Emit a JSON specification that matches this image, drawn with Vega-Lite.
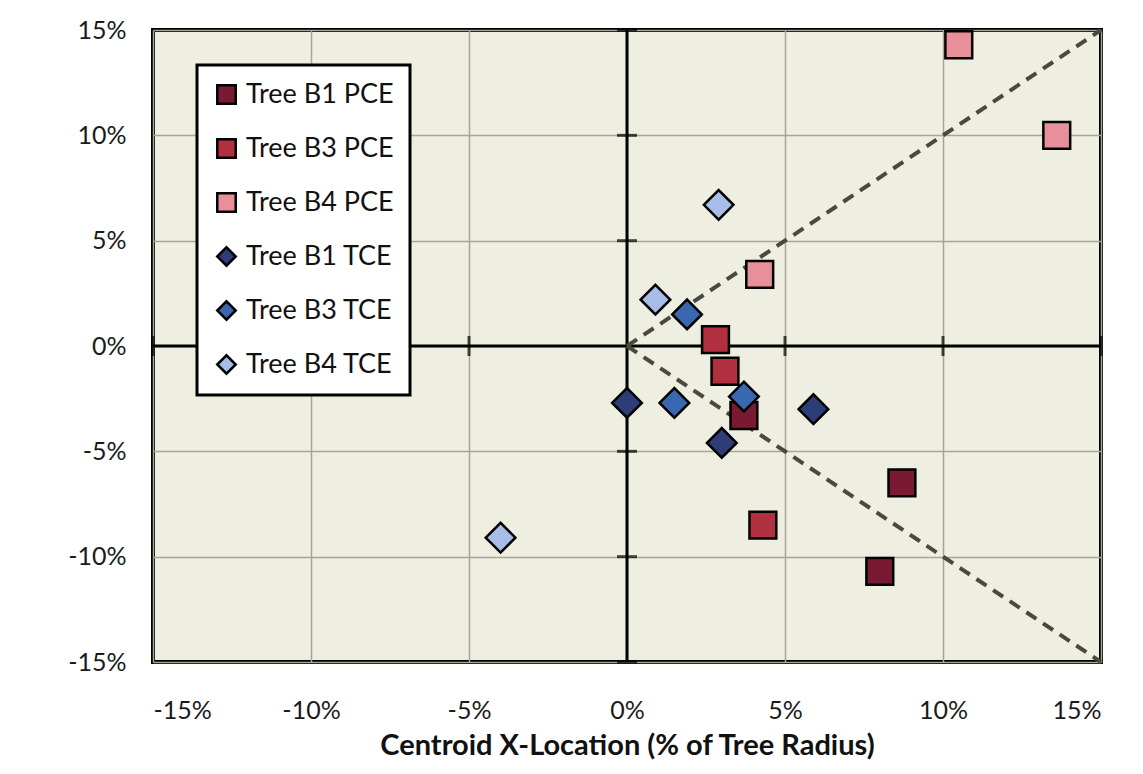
{
  "$schema": "https://vega.github.io/schema/vega-lite/v6.json",
  "width": 948,
  "height": 632,
  "autosize": {"type": "none"},
  "padding": {"left": 153, "top": 30, "right": 42, "bottom": 112},
  "background": "white",
  "config": {
    "view": {"fill": "#eeefe1", "stroke": "#000000", "strokeWidth": 4},
    "font": "Lato",
    "legend": {"strokeWidth": 3}
  },
  "datasets": {
    "points": [
      {"series": "Tree B1 PCE", "x": 8.7, "y": -6.5},
      {"series": "Tree B1 PCE", "x": 8.0, "y": -10.7},
      {"series": "Tree B1 PCE", "x": 3.7, "y": -3.3},
      {"series": "Tree B3 PCE", "x": 2.8, "y": 0.3},
      {"series": "Tree B3 PCE", "x": 3.1, "y": -1.2},
      {"series": "Tree B3 PCE", "x": 4.3, "y": -8.5},
      {"series": "Tree B4 PCE", "x": 10.5, "y": 14.3},
      {"series": "Tree B4 PCE", "x": 13.6, "y": 10.0},
      {"series": "Tree B4 PCE", "x": 4.2, "y": 3.4},
      {"series": "Tree B1 TCE", "x": 0.0, "y": -2.7},
      {"series": "Tree B1 TCE", "x": 5.9, "y": -3.0},
      {"series": "Tree B1 TCE", "x": 3.0, "y": -4.6},
      {"series": "Tree B3 TCE", "x": 1.9, "y": 1.5},
      {"series": "Tree B3 TCE", "x": 1.5, "y": -2.7},
      {"series": "Tree B3 TCE", "x": 3.7, "y": -2.4},
      {"series": "Tree B4 TCE", "x": 2.9, "y": 6.7},
      {"series": "Tree B4 TCE", "x": 0.9, "y": 2.2},
      {"series": "Tree B4 TCE", "x": -4.0, "y": -9.1}
    ],
    "diag": [
      {"seg": "up", "x": 0, "y": 0},
      {"seg": "up", "x": 15, "y": 15},
      {"seg": "down", "x": 0, "y": 0},
      {"seg": "down", "x": 15, "y": -15}
    ],
    "zero": [{"v": 0}],
    "ticksY": [{"x": 0, "y": -15}, {"x": 0, "y": -10}, {"x": 0, "y": -5}, {"x": 0, "y": 5}, {"x": 0, "y": 10}, {"x": 0, "y": 15}],
    "ticksX": [{"x": -15, "y": 0}, {"x": -10, "y": 0}, {"x": -5, "y": 0}, {"x": 5, "y": 0}, {"x": 10, "y": 0}, {"x": 15, "y": 0}]
  },
  "layer": [
    {
      "data": {"name": "zero"},
      "mark": {"type": "rule", "color": "#000000", "strokeWidth": 3},
      "encoding": {
        "x": {
          "field": "v", "type": "quantitative",
          "scale": {"domain": [-15, 15], "nice": false, "zero": false},
          "axis": {
            "values": [-15, -10, -5, 0, 5, 10, 15],
            "labelExpr": "datum.value + '%'",
            "labelFontSize": 25, "labelColor": "#1a1a1a", "labelPadding": 36,
            "domain": false, "ticks": false,
            "grid": true, "gridColor": "#a6a696", "gridWidth": 1.5,
            "title": "Centroid X-Location (% of Tree Radius)",
            "titleFontSize": 29, "titleFontWeight": "bold", "titleColor": "#111111", "titlePadding": 8
          }
        }
      }
    },
    {
      "data": {"name": "zero"},
      "mark": {"type": "rule", "color": "#000000", "strokeWidth": 3},
      "encoding": {
        "y": {
          "field": "v", "type": "quantitative",
          "scale": {"domain": [-15, 15], "nice": false, "zero": false},
          "axis": {
            "values": [-15, -10, -5, 0, 5, 10, 15],
            "labelExpr": "datum.value + '%'",
            "labelFontSize": 25, "labelColor": "#1a1a1a", "labelPadding": 27,
            "domain": false, "ticks": false,
            "grid": true, "gridColor": "#a6a696", "gridWidth": 1.5,
            "title": null
          }
        }
      }
    },
    {
      "data": {"name": "ticksY"},
      "mark": {"type": "tick", "orient": "horizontal", "color": "#000000", "size": 20, "thickness": 3},
      "encoding": {
        "x": {"field": "x", "type": "quantitative"},
        "y": {"field": "y", "type": "quantitative"}
      }
    },
    {
      "data": {"name": "ticksX"},
      "mark": {"type": "tick", "orient": "vertical", "color": "#000000", "size": 20, "thickness": 3},
      "encoding": {
        "x": {"field": "x", "type": "quantitative"},
        "y": {"field": "y", "type": "quantitative"}
      }
    },
    {
      "data": {"name": "diag"},
      "mark": {"type": "line", "color": "#4a4a3c", "strokeWidth": 4, "strokeDash": [12, 8]},
      "encoding": {
        "x": {"field": "x", "type": "quantitative"},
        "y": {"field": "y", "type": "quantitative"},
        "detail": {"field": "seg", "type": "nominal"}
      }
    },
    {
      "data": {"name": "points"},
      "transform": [{"filter": "indexof(datum.series, 'PCE') >= 0"}],
      "mark": {"type": "point", "filled": true, "opacity": 1, "stroke": "#000000", "strokeWidth": 2.5, "size": 720},
      "encoding": {
        "x": {"field": "x", "type": "quantitative"},
        "y": {"field": "y", "type": "quantitative"},
        "color": {
          "field": "series", "type": "nominal",
          "scale": {
            "domain": ["Tree B1 PCE", "Tree B3 PCE", "Tree B4 PCE", "Tree B1 TCE", "Tree B3 TCE", "Tree B4 TCE"],
            "range": ["#7a1a32", "#b0303f", "#e8909a", "#2c3d78", "#3a68b0", "#a8bcea"]
          },
          "legend": {
            "title": null, "orient": "none", "legendX": 44, "legendY": 35,
            "fillColor": "#ffffff", "strokeColor": "#000000",
            "padding": 16, "labelFontSize": 27, "labelColor": "#111111",
            "symbolSize": 340, "symbolStrokeWidth": 2.5, "symbolStrokeColor": "#000000",
            "rowPadding": 25, "labelOffset": 6, "labelLimit": 300
          }
        },
        "shape": {
          "field": "series", "type": "nominal",
          "scale": {
            "domain": ["Tree B1 PCE", "Tree B3 PCE", "Tree B4 PCE", "Tree B1 TCE", "Tree B3 TCE", "Tree B4 TCE"],
            "range": ["square", "square", "square", "diamond", "diamond", "diamond"]
          }
        }
      }
    },
    {
      "data": {"name": "points"},
      "transform": [{"filter": "indexof(datum.series, 'TCE') >= 0"}],
      "mark": {"type": "point", "filled": true, "opacity": 1, "stroke": "#000000", "strokeWidth": 2.5, "size": 880},
      "encoding": {
        "x": {"field": "x", "type": "quantitative"},
        "y": {"field": "y", "type": "quantitative"},
        "color": {"field": "series", "type": "nominal"},
        "shape": {"field": "series", "type": "nominal"}
      }
    }
  ]
}
